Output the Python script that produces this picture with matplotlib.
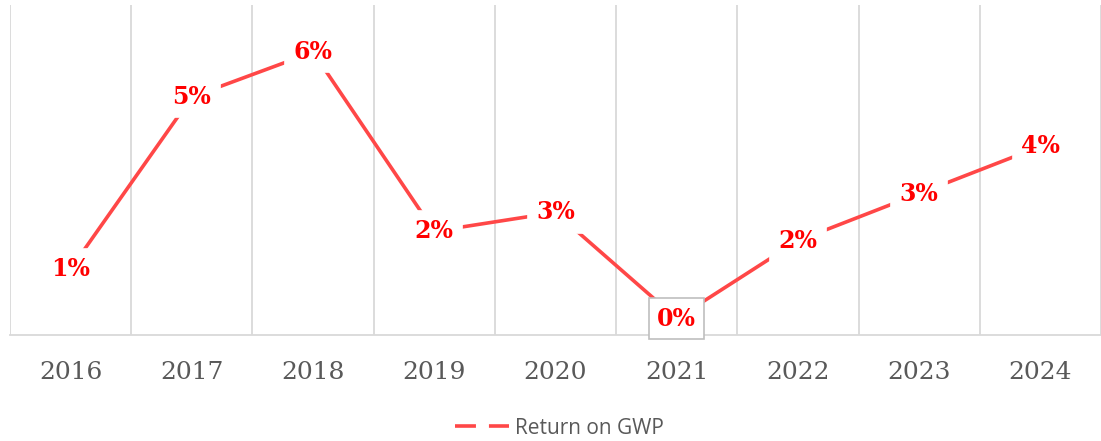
import matplotlib.pyplot as plt
from matplotlib.lines import Line2D

# data
years = ["2016", "2017", "2018", "2019", "2020", "2021", "2022", "2023", "2024"]
returns = [1.4, 5.05, 6.0, 2.2, 2.6, 0.35, 2.0, 3.0, 4.0]
labels = ["1%", "5%", "6%", "2%", "3%", "0%", "2%", "3%", "4%"]

line_col = "#ff4747"
grey = "#595959"
grid_col = "#d9d9d9"

fig = plt.figure(figsize=(11.01, 4.41), dpi=100)
ax = fig.add_axes([10 / 1101, 1 - 335 / 441, 1091 / 1101, 330 / 441])

x = list(range(len(years)))
ax.plot(x, returns, color=line_col, lw=2.6, zorder=2)

# data labels sit on the points with a white box that cuts the line
for i, (v, lab) in enumerate(zip(returns, labels)):
    edge = "#bfbfbf" if i == 5 else "white"
    weight = "heavy" if i == 3 else "bold"
    ax.text(i, v, lab, ha="center", va="center", color="red",
            fontsize=17, family="DejaVu Serif", fontweight=weight, zorder=3,
            bbox=dict(boxstyle="square,pad=0.35", fc="white", ec=edge, lw=1.2))

ax.set_xlim(-0.5, len(years) - 0.5)
ax.set_ylim(0, 7)

# vertical grid between categories
for g in range(len(years) + 1):
    ax.axvline(g - 0.5, color=grid_col, lw=1.3, zorder=1)

ax.set_xticks(x)
ax.set_xticklabels(years, family="DejaVu Serif", fontsize=18, color=grey)
ax.tick_params(axis="x", length=0, pad=19)
ax.set_yticks([])
for s in ["top", "right", "left"]:
    ax.spines[s].set_visible(False)
ax.spines["bottom"].set_color(grid_col)
ax.spines["bottom"].set_linewidth(1.3)

handle = Line2D([], [], color=line_col, lw=2.6, linestyle=(0, (5.8, 3.6)))
fig.legend(handles=[handle], labels=["Return on GWP"], loc="center",
           bbox_to_anchor=(0.508, 13 / 441), frameon=False, handlelength=2.6,
           handletextpad=0.25, borderpad=0, prop={"family": "Open Sans", "size": 15},
           labelcolor=grey)

fig.savefig("out.png", dpi=100)
